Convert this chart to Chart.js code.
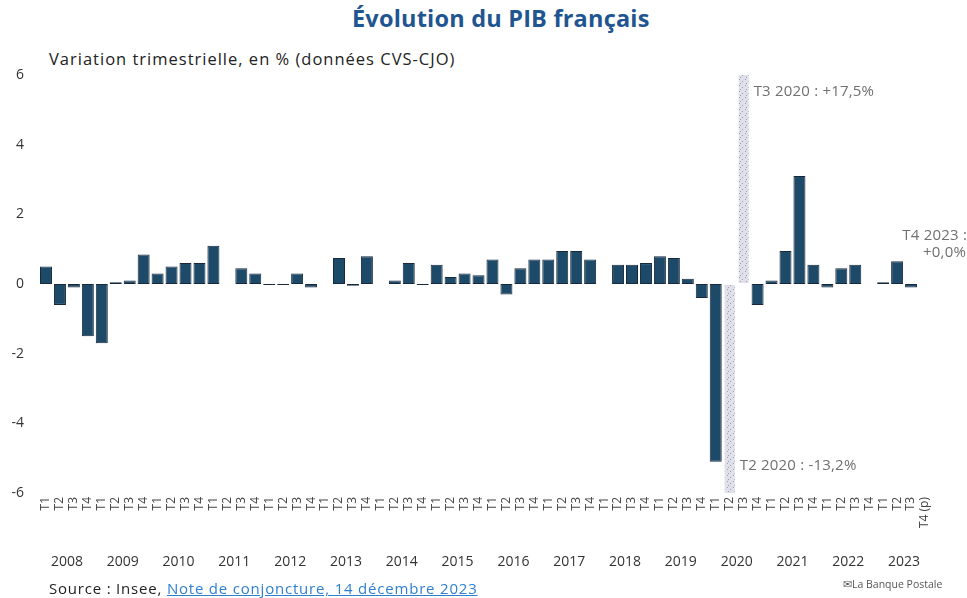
<!DOCTYPE html>
<html lang="fr">
<head>
<meta charset="utf-8">
<title>Évolution du PIB français</title>
<script src="https://cdn.jsdelivr.net/npm/chart.js@4.4.0/dist/chart.umd.min.js"></script>
<style>
  body { margin: 0; background: #fff; font-family: "Open Sans", sans-serif; }
  #wrap { position: relative; width: 967px; height: 598px; overflow: hidden; background: #fff; }
  #chart { position: absolute; left: 0; top: 0; }
  .txt { position: absolute; white-space: nowrap; line-height: 1.2; }
  #title { left: 352px; top: 4px; font-size: 23.5px; font-weight: 700; letter-spacing: 0.2px; color: #1f5590; }
  #subtitle { left: 49px; top: 49px; font-size: 16.5px; letter-spacing: 1px; color: #222; }
  #source { left: 49px; top: 579px; font-size: 15px; letter-spacing: 0.8px; color: #222; }
  #source a { color: #2f7fd0; text-decoration: underline; }
  #brand { left: 843px; top: 578px; font-size: 10.5px; color: #555; }
</style>
</head>
<body>
<div id="wrap">
  <div id="title" class="txt">Évolution du PIB français</div>
  <div id="subtitle" class="txt">Variation trimestrielle, en % (données CVS-CJO)</div>
  <canvas id="chart" width="967" height="598"></canvas>
  <div id="source" class="txt">Source : Insee, <a href="#">Note de conjoncture, 14 décembre 2023</a></div>
  <div id="brand" class="txt">✉La Banque Postale</div>
</div>
<script>
const years = ['2008', '2009', '2010', '2011', '2012', '2013', '2014', '2015',
               '2016', '2017', '2018', '2019', '2020', '2021', '2022', '2023']
const quarterNames = ['T1', 'T2', 'T3', 'T4']
const quarters = years.flatMap(y => quarterNames.map(q => q + ' ' + y))
const forecastMark = ' (p)'

// variation trimestrielle du PIB, en %
const gdpGrowth = [
    0.5, -0.6, -0.1, -1.5,    // 2008
    -1.7, 0.05, 0.1, 0.85,    // 2009
    0.3, 0.5, 0.6, 0.6,       // 2010
    1.1, 0.0, 0.45, 0.3,      // 2011
    -0.03, -0.03, 0.3, -0.1,  // 2012
    0.0, 0.75, -0.05, 0.8,    // 2013
    0.0, 0.1, 0.6, -0.03,     // 2014
    0.55, 0.2, 0.3, 0.25,     // 2015
    0.7, -0.3, 0.45, 0.7,     // 2016
    0.7, 0.95, 0.95, 0.7,     // 2017
    0.0, 0.55, 0.55, 0.6,     // 2018
    0.8, 0.75, 0.15, -0.4,    // 2019
    -5.1, -13.2, 17.5, -0.6,  // 2020
    0.1, 0.95, 3.1, 0.55,     // 2021
    -0.1, 0.45, 0.55, 0.0,    // 2022
    0.05, 0.65, -0.1, 0.0     // 2023
]
const yTicks = [-6, -4, -2, 0, 2, 4, 6]

const BAR_COLOR = '#1e4a69'
const BAR_BORDER = '#17293a'
const NOTE_COLOR = '#707070'

const fmtPct = v => (v >= 0 ? '+' : '') + v.toFixed(1).replace('.', ',') + '%'

// speckled light fill for the bars that go off the scale
const makeSpeckle = () => {
    const c = document.createElement('canvas')
    c.width = 6
    c.height = 6
    const g = c.getContext('2d')
    g.fillStyle = '#dfe0e9'
    g.fillRect(0, 0, 6, 6)
    g.fillStyle = '#9c9eac'
    g.fillRect(1, 1, 1, 1)
    g.fillRect(4, 3, 1, 1)
    g.fillRect(2, 5, 1, 1)
    return g.createPattern(c, 'repeat')
}

const notesPlugin = {
    id: 'notes',
    afterDatasetsDraw(chart) {
        const {ctx, chartArea, scales: {y}} = chart
        const bars = chart.getDatasetMeta(0).data
        ctx.save()
        ctx.font = '15px "Open Sans"'
        ctx.letterSpacing = '0.2px'
        ctx.fillStyle = NOTE_COLOR
        ctx.textBaseline = 'middle'
        ctx.textAlign = 'left'
        gdpGrowth.forEach((v, i) => {
            const bar = bars[i]
            const x = bar.x + bar.width / 2 + 4
            if (v > y.max) ctx.fillText(quarters[i] + ' : ' + fmtPct(v), x, chartArea.top + 17)
            if (v < y.min) ctx.fillText(quarters[i] + ' : ' + fmtPct(v), x, chartArea.bottom - 27)
        })
        // last (forecast) quarter
        const last = gdpGrowth.length - 1
        const lb = bars[last]
        const ly = y.getPixelForValue(gdpGrowth[last])
        ctx.textAlign = 'right'
        ctx.fillText(quarters[last] + ' :', lb.x + 42, ly - 48)
        ctx.fillText(fmtPct(gdpGrowth[last]), lb.x + 41, ly - 31)
        ctx.restore()
    }
}

document.addEventListener('DOMContentLoaded', () => {
    const speckle = makeSpeckle()
    const offScale = v => v > yTicks[yTicks.length - 1] || v < yTicks[0]

    new Chart(document.getElementById('chart'), {
        type: 'bar',
        data: {
            labels: quarters,
            datasets: [{
                data: gdpGrowth,
                backgroundColor: c => offScale(gdpGrowth[c.dataIndex]) ? speckle : BAR_COLOR,
                borderColor: c => offScale(gdpGrowth[c.dataIndex]) ? 'rgba(0,0,0,0)' : BAR_BORDER,
                borderWidth: 1,
                borderSkipped: false,
                categoryPercentage: 1,
                barPercentage: 0.86
            }]
        },
        options: {
            responsive: false,
            animation: false,
            layout: { padding: { left: 0, right: 35, top: 75, bottom: 27 } },
            plugins: {
                legend: { display: false },
                tooltip: { enabled: false }
            },
            scales: {
                x: {
                    weight: 0,
                    grid: { display: false, drawTicks: false },
                    border: { display: false },
                    ticks: {
                        autoSkip: false,
                        minRotation: 90,
                        maxRotation: 90,
                        padding: 4,
                        color: '#444',
                        font: { family: 'Open Sans', size: 12 },
                        callback: (v, i) => quarters[i].split(' ')[0] + (i === quarters.length - 1 ? forecastMark : '')
                    },
                    afterFit: s => { s.height = 50 }
                },
                years: {
                    type: 'category',
                    position: 'bottom',
                    weight: 1,
                    labels: years,
                    offset: true,
                    grid: { display: false, drawTicks: false },
                    border: { display: false },
                    ticks: {
                        autoSkip: false,
                        maxRotation: 0,
                        padding: 11,
                        color: '#333',
                        font: { family: 'Open Sans', size: 14 }
                    },
                    afterFit: s => { s.height = 28 }
                },
                y: {
                    min: yTicks[0],
                    max: yTicks[yTicks.length - 1],
                    grid: { display: false, drawTicks: false },
                    border: { display: false },
                    afterBuildTicks: s => { s.ticks = yTicks.map(v => ({value: v})) },
                    ticks: {
                        padding: 15,
                        color: '#333',
                        font: { family: 'Open Sans', size: 14 }
                    },
                    afterFit: s => { s.width = 39 }
                }
            }
        },
        plugins: [notesPlugin]
    })
})
</script>
</body>
</html>
